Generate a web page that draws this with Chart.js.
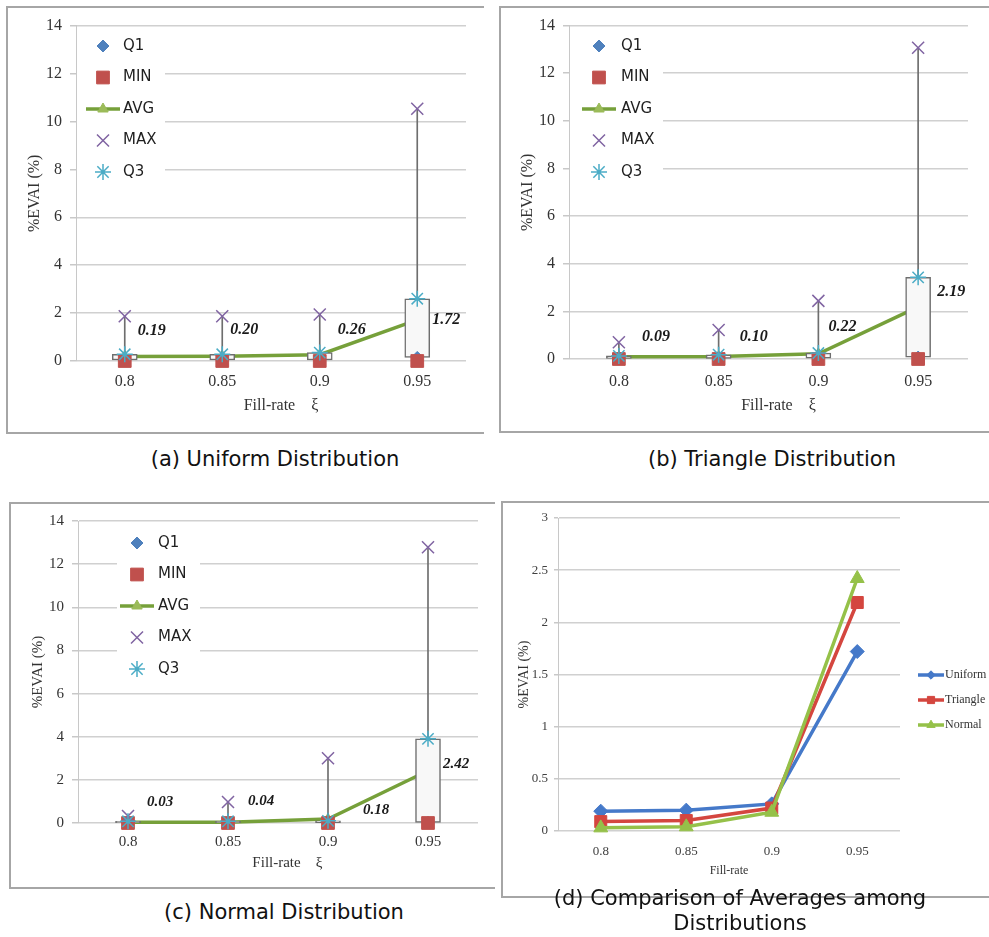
<!DOCTYPE html>
<html>
<head>
<meta charset="utf-8">
<title>%EVAI vs fill-rate</title>
<script src="https://cdn.jsdelivr.net/npm/chart.js@4.4.1/dist/chart.umd.min.js"></script>
<style>
  body { margin: 0; width: 989px; height: 937px; position: relative; background: #fff; overflow: hidden; }
  .panel { position: absolute; border: 2px solid #a6a6a6; border-right: none; box-sizing: border-box; }
  canvas { position: absolute; }
  .cap { position: absolute; width: 500px; text-align: center; font: 21px "DejaVu Sans", sans-serif; line-height: 25px; color: #111; }
</style>
</head>
<body>
<div class="panel" style="left:6px;top:6px;width:478px;height:428px"></div>
<div class="panel" style="left:499px;top:6px;width:490px;height:427px"></div>
<div class="panel" style="left:9px;top:502px;width:486px;height:387px"></div>
<div class="panel" style="left:501px;top:501px;width:488px;height:397px"></div>

<canvas id="chartA" width="476" height="424" style="left:8px;top:8px"></canvas>
<canvas id="chartB" width="488" height="424" style="left:501px;top:8px"></canvas>
<canvas id="chartC" width="484" height="383" style="left:11px;top:504px"></canvas>
<canvas id="chartD" width="486" height="393" style="left:503px;top:503px"></canvas>

<div class="cap" style="left:25px;top:447px">(a) Uniform Distribution</div>
<div class="cap" style="left:522px;top:447px">(b) Triangle Distribution</div>
<div class="cap" style="left:34px;top:900px">(c) Normal Distribution</div>
<div class="cap" style="left:490px;top:886px">(d) Comparison of Averages among<br>Distributions</div>

<script>
// categories and tick labels
const fillRates = ['0.8', '0.85', '0.9', '0.95'];
const boxTicks = [0, 2, 4, 6, 8, 10, 12, 14];
const avgTicks = [0, 0.5, 1, 1.5, 2, 2.5, 3];

// (a) uniform
const uniMin = [0, 0, 0, 0];
const uniQ1 = [0.04, 0.04, 0.04, 0.15];
const uniAvg = [0.19, 0.20, 0.26, 1.72];
const uniQ3 = [0.28, 0.28, 0.35, 2.6];
const uniMax = [1.87, 1.87, 1.94, 10.53];

// (b) triangle
const triMin = [0, 0, 0, 0];
const triQ1 = [0.02, 0.02, 0.04, 0.08];
const triAvg = [0.09, 0.10, 0.22, 2.19];
const triQ3 = [0.13, 0.18, 0.25, 3.43];
const triMax = [0.70, 1.22, 2.44, 13.07];

// (c) normal
const norMin = [0, 0, 0, 0];
const norQ1 = [0.01, 0.01, 0.02, 0.03];
const norAvg = [0.03, 0.04, 0.18, 2.42];
const norQ3 = [0.08, 0.08, 0.1, 3.9];
const norMax = [0.32, 0.97, 3.0, 12.78];

Chart.defaults.font.family = '"Liberation Serif", serif';

// legend drawn inside the plot, on a white patch over the grid
const boxLegend = {
  id: 'boxLegend',
  beforeDatasetsDraw(chart, args, o) {
    if (!o || o.x === undefined) return;
    const ctx = chart.ctx;
    ctx.save();
    if (o.box) {
      ctx.fillStyle = '#ffffff';
      ctx.fillRect(o.box[0], o.box[1], o.box[2] - o.box[0], o.box[3] - o.box[1]);
    }
    const items = chart.data.datasets.filter(d => !d.label.startsWith('_'));
    items.forEach((d, i) => {
      const x = o.x, y = o.y + i * o.gap;
      if (d.showLine !== false) {
        ctx.strokeStyle = d.borderColor;
        ctx.lineWidth = d.borderWidth;
        ctx.beginPath();
        ctx.moveTo(x - o.half, y);
        ctx.lineTo(x + o.half, y);
        ctx.stroke();
      }
      ctx.fillStyle = d.pointBackgroundColor || 'rgba(0,0,0,0)';
      ctx.strokeStyle = d.pointBorderColor;
      ctx.lineWidth = d.pointBorderWidth;
      Chart.helpers.drawPoint(ctx, {
        pointStyle: d.pointStyle, radius: d.pointRadius * (o.scale || 1),
        rotation: 0, borderWidth: d.pointBorderWidth
      }, x, y);
      ctx.fillStyle = o.color;
      ctx.font = o.font;
      ctx.textBaseline = 'middle';
      ctx.textAlign = 'left';
      ctx.fillText(d.label, x + o.dx, y);
    });
    ctx.restore();
  }
};

// bold italic average values next to each box
const avgLabels = {
  id: 'avgLabels',
  afterDatasetsDraw(chart, args, o) {
    if (!o || !o.offsets) return;
    const ds = chart.data.datasets.find(d => d.label === 'AVG');
    const ctx = chart.ctx;
    const xs = chart.scales.x, ys = chart.scales.y;
    ctx.save();
    ctx.font = o.font;
    ctx.fillStyle = '#1a1a1a';
    ctx.textBaseline = 'middle';
    ctx.textAlign = 'left';
    ds.data.forEach((v, i) => {
      ctx.fillText(v.toFixed(2), xs.getPixelForValue(i) + o.offsets[i][0], ys.getPixelForValue(v) + o.offsets[i][1]);
    });
    ctx.restore();
  }
};

function boxPanel(id, q1, min, avg, max, q3, opt) {
  const f = { family: '"Liberation Serif", serif', size: opt.fs };
  return new Chart(document.getElementById(id), {
    type: 'bar',
    data: {
      labels: fillRates,
      datasets: [
        { type: 'line', label: 'Q1', data: q1, showLine: false, pointStyle: 'rectRot', pointRadius: 6, clip: false,
          pointBackgroundColor: '#4f81bd', pointBorderColor: '#4f81bd', pointBorderWidth: 1, order: 3 },
        { type: 'line', label: 'MIN', data: min, showLine: false, pointStyle: 'rect', pointRadius: 9, clip: false,
          pointBackgroundColor: '#c0504d', pointBorderColor: '#c0504d', pointBorderWidth: 1, order: 2 },
        { type: 'line', label: 'AVG', data: avg, borderColor: '#76a03a', borderWidth: 3.5, tension: 0, clip: false,
          pointStyle: 'triangle', pointRadius: 6, pointBackgroundColor: '#9bbb59', pointBorderColor: '#9bbb59',
          pointBorderWidth: 1, order: 7 },
        { type: 'line', label: 'MAX', data: max, showLine: false, pointStyle: 'crossRot', pointRadius: 8.5, clip: false,
          pointBackgroundColor: 'rgba(0,0,0,0)', pointBorderColor: '#8064a2', pointBorderWidth: 1.5, order: 1 },
        { type: 'line', label: 'Q3', data: q3, showLine: false, pointStyle: 'star', pointRadius: 8, clip: false,
          pointBackgroundColor: 'rgba(0,0,0,0)', pointBorderColor: '#4bacc6', pointBorderWidth: 1.5, order: 0 },
        { label: '_box', data: q1.map((v, i) => [v, q3[i]]), backgroundColor: '#f8f8f8', borderColor: '#6e6e6e',
          borderWidth: 1.5, borderSkipped: false, barThickness: 25, grouped: false, order: 5 },
        { label: '_whisker', data: min.map((v, i) => [v, max[i]]), backgroundColor: '#6e6e6e',
          barThickness: 1, grouped: false, order: 6 }
      ]
    },
    options: {
      responsive: false, animation: false, devicePixelRatio: 1,
      layout: { padding: { top: opt.padTop, right: opt.padRight, left: 0, bottom: 0 } },
      plugins: { legend: { display: false }, tooltip: { enabled: false }, boxLegend: opt.legend, avgLabels: opt.labels },
      scales: {
        x: {
          grid: { display: false }, border: { display: false },
          ticks: { font: f, color: '#333', padding: opt.xTickPad },
          title: { display: true, text: '     Fill-rate    ξ', font: f, color: '#333', padding: { top: 0, bottom: opt.xTitlePad } },
          afterFit: s => { s.height = opt.xH; }
        },
        y: {
          min: 0, max: 14,
          afterBuildTicks: s => { s.ticks = boxTicks.map(v => ({ value: v })); },
          grid: { color: '#d0d0d0', lineWidth: 1.5, tickLength: 6, tickColor: '#c8c8c8' },
          border: { color: '#c8c8c8', width: 1 },
          ticks: { font: f, color: '#333', padding: 8 },
          title: { display: true, text: '%EVAI (%)', font: f, color: '#333', padding: { top: opt.yTitlePad, bottom: 0 } },
          afterFit: s => { s.width = opt.yW; }
        }
      }
    },
    plugins: [boxLegend, avgLabels]
  });
}

boxPanel('chartA', uniQ1, uniMin, uniAvg, uniMax, uniQ3, {
  fs: 16, padTop: 17, padRight: 18, xH: 71, yW: 68, xTickPad: 3, xTitlePad: 17, yTitlePad: 17.4,
  legend: { x: 95, y: 38, gap: 31.5, dx: 20, half: 17, box: [69, 22, 157, 182], font: '15px "DejaVu Sans"', color: '#1f1f1f' },
  labels: { offsets: [[13, -26], [8, -26], [18, -25], [15, 0]], font: 'italic bold 16px "Liberation Serif"' }
});

boxPanel('chartB', triQ1, triMin, triAvg, triMax, triQ3, {
  fs: 16, padTop: 17, padRight: 21, xH: 73, yW: 68, xTickPad: 5, xTitlePad: 17, yTitlePad: 17.4,
  legend: { x: 98, y: 38, gap: 31.5, dx: 22, half: 17, box: [69, 22, 162, 182], font: '15px "DejaVu Sans"', color: '#1f1f1f' },
  labels: { offsets: [[23, -20], [21, -20], [10, -27], [19, -15]], font: 'italic bold 16px "Liberation Serif"' }
});

boxPanel('chartC', norQ1, norMin, norAvg, norMax, norQ3, {
  fs: 15, padTop: 15, padRight: 17, xH: 64, yW: 67, xTickPad: 2.5, xTitlePad: 15, yTitlePad: 18,
  legend: { x: 126, y: 39, gap: 31.5, dx: 21, half: 17, box: [106, 29, 189, 156], font: '15px "DejaVu Sans"', color: '#1f1f1f' },
  labels: { offsets: [[19, -20], [20, -21], [35, -9], [15, -7]], font: 'italic bold 15px "Liberation Serif"' }
});

// (d) comparison of the averages
const fD = { family: '"Liberation Serif", serif', size: 13 };
new Chart(document.getElementById('chartD'), {
  type: 'line',
  data: {
    labels: fillRates,
    datasets: [
      { label: 'Uniform', data: uniAvg, borderColor: '#4579c9', borderWidth: 3.5, tension: 0, pointStyle: 'rectRot', clip: false,
        pointRadius: 7, pointBackgroundColor: '#4579c9', pointBorderColor: '#4579c9', pointBorderWidth: 1, order: 2 },
      { label: 'Triangle', data: triAvg, borderColor: '#d4463f', borderWidth: 3.5, tension: 0, pointStyle: 'rect', clip: false,
        pointRadius: 8.5, pointBackgroundColor: '#d4463f', pointBorderColor: '#d4463f', pointBorderWidth: 1, order: 1 },
      { label: 'Normal', data: norAvg, borderColor: '#95c149', borderWidth: 3.5, tension: 0, pointStyle: 'triangle', clip: false,
        pointRadius: 8, pointBackgroundColor: '#95c149', pointBorderColor: '#95c149', pointBorderWidth: 1, order: 0 }
    ]
  },
  options: {
    responsive: false, animation: false, devicePixelRatio: 1,
    layout: { padding: { top: 15, right: 89, left: 0, bottom: 0 } },
    plugins: {
      legend: { display: false }, tooltip: { enabled: false },
      boxLegend: { x: 428, y: 172, gap: 25, dx: 14, half: 13, scale: 0.6, font: '12px "Liberation Serif"', color: '#333' }
    },
    scales: {
      x: {
        offset: true,
        grid: { display: false }, border: { display: false },
        ticks: { font: fD, color: '#404040', padding: 4.5 },
        title: { display: true, text: 'Fill-rate', font: { family: '"Liberation Serif", serif', size: 12 }, color: '#333', padding: { top: 0, bottom: 17.8 } },
        afterFit: s => { s.height = 65; }
      },
      y: {
        min: 0, max: 3,
        afterBuildTicks: s => { s.ticks = avgTicks.map(v => ({ value: v })); },
        grid: { color: '#d0d0d0', lineWidth: 1.5, tickLength: 4, tickColor: '#c8c8c8' },
        border: { color: '#c8c8c8', width: 1 },
        ticks: { font: fD, color: '#404040', padding: 6, callback: v => String(v) },
        title: { display: true, text: '%EVAI (%)', font: { family: '"Liberation Serif", serif', size: 14 }, color: '#333', padding: { top: 12.6, bottom: 0 } },
        afterFit: s => { s.width = 55; }
      }
    }
  },
  plugins: [boxLegend]
});
</script>
</body>
</html>
